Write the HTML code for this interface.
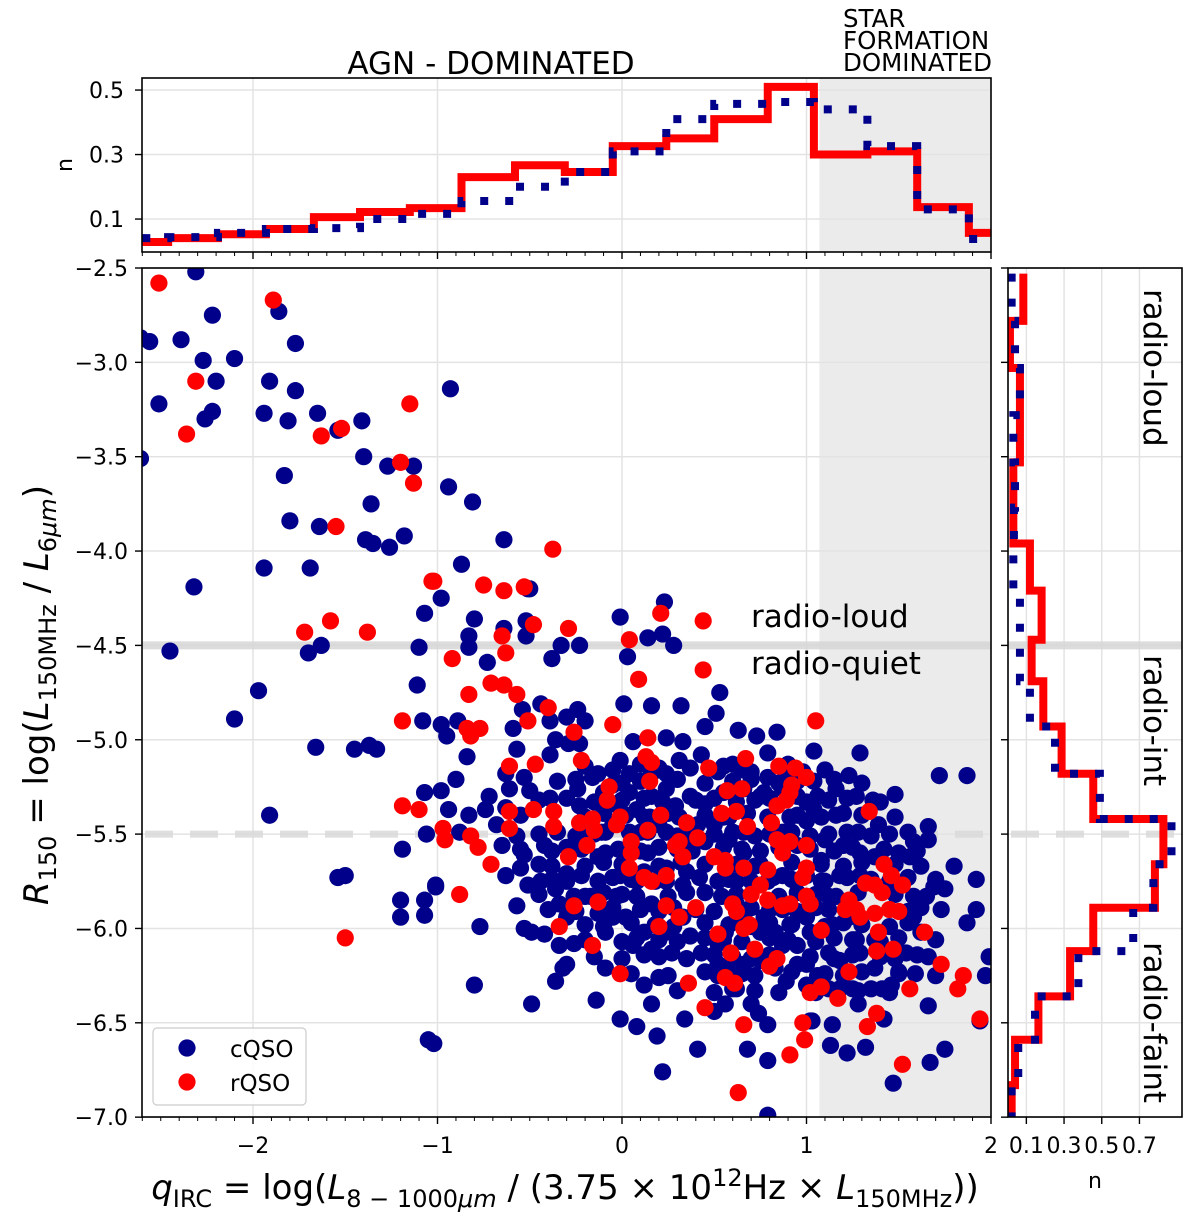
<!DOCTYPE html>
<html><head><meta charset="utf-8"><style>
html,body{margin:0;padding:0;background:#fff;}
svg{display:block;font-family:"DejaVu Sans","Liberation Sans",sans-serif;}
</style></head><body>
<svg id="chart" width="1200" height="1226" viewBox="0 0 1200 1226" xmlns="http://www.w3.org/2000/svg">
<defs>
<clipPath id="mainClip"><rect x="142" y="268" width="849" height="849"/></clipPath>
<clipPath id="topClip"><rect x="142" y="78" width="849" height="174"/></clipPath>
<clipPath id="rightClip"><rect x="1008" y="268" width="174" height="849"/></clipPath>
</defs>
<g id="bg"></g>
<g id="grid"></g>
<g id="refs"></g>
<g id="hists"></g>
<g id="points" clip-path="url(#mainClip)"></g>
<g id="axes"></g>
<g id="labels"></g>
</svg>
<script>
const xTicks = [-2, -1, 0, 1, 2];
const xTickLabels = ['\u22122', '\u22121', '0', '1', '2'];
const yTicks = [-2.5, -3.0, -3.5, -4.0, -4.5, -5.0, -5.5, -6.0, -6.5, -7.0];
const yTickLabels = ['\u22122.5', '\u22123.0', '\u22123.5', '\u22124.0', '\u22124.5', '\u22125.0', '\u22125.5', '\u22126.0', '\u22126.5', '\u22127.0'];
const topTicks = [0.1, 0.3, 0.5];
const topTickLabels = ['0.1', '0.3', '0.5'];
const rightTicks = [0.1, 0.3, 0.5, 0.7];
const rightTickLabels = ['0.1', '0.3', '0.5', '0.7'];
const sfBoundary = 1.07;
const loudLine = -4.5;
const faintLine = -5.5;

const topEdges = [-2.6,-2.46,-2.19,-1.93,-1.67,-1.42,-1.15,-0.87,-0.58,-0.31,-0.05,0.24,0.50,0.79,1.04,1.33,1.60,1.88,2.0];
const topRed = [0.029,0.041,0.053,0.069,0.106,0.122,0.134,0.23,0.267,0.246,0.326,0.35,0.41,0.51,0.30,0.31,0.137,0.057];
const topBlue = [0.041,0.044,0.057,0.069,0.072,0.10,0.116,0.156,0.20,0.246,0.31,0.41,0.457,0.463,0.44,0.326,0.13,0.038];

const rightEdges = [-2.53,-2.78,-3.03,-3.28,-3.53,-3.77,-3.96,-4.21,-4.47,-4.69,-4.93,-5.18,-5.42,-5.66,-5.89,-6.12,-6.36,-6.59,-6.83,-7.0];
const rightRed = [0.084,0.013,0.066,0.066,0.031,0.031,0.119,0.181,0.128,0.19,0.287,0.455,0.827,0.782,0.455,0.332,0.164,0.04,0.022];
const rightBlue = [0.022,0.04,0.066,0.031,0.04,0.034,0.031,0.066,0.066,0.119,0.252,0.49,0.87,0.774,0.667,0.376,0.146,0.057,0.022];

const cqsoPoints = [
[-2.31,-2.52],[-2.61,-2.87],[-2.56,-2.89],[-2.39,-2.88],[-2.22,-2.75],[-2.27,-2.99],[-2.10,-2.98],[-2.20,-3.10],[-2.51,-3.22],[-2.22,-3.26],[-2.26,-3.30],[-2.61,-3.51],[-1.86,-2.73],[-1.77,-2.90],[-1.91,-3.10],[-1.77,-3.15],[-1.94,-3.27],[-1.81,-3.31],[-1.65,-3.27],[-1.54,-3.36],[-1.41,-3.31],[-0.93,-3.14],[-1.40,-3.50],[-1.27,-3.55],[-1.13,-3.55],[-1.83,-3.60],[-1.36,-3.75],[-0.94,-3.66],[-0.81,-3.74],[-1.80,-3.84],[-1.64,-3.87],[-1.39,-3.94],[-1.35,-3.96],[-1.26,-3.98],[-1.18,-3.92],[-0.64,-3.94],[-1.94,-4.09],[-1.69,-4.09],[-2.32,-4.19],[-0.87,-4.07],[-0.98,-4.25],[-1.07,-4.33],[-0.80,-4.36],[-0.64,-4.41],[-0.52,-4.37],[-0.50,-4.20],[-0.83,-4.45],[-0.52,-4.45],[-2.45,-4.53],[-1.63,-4.50],[-1.70,-4.54],[-1.10,-4.51],[-0.83,-4.51],[-0.73,-4.59],[-0.38,-4.57],
[-2.10,-4.89],[-1.97,-4.74],[-1.91,-5.40],[-1.66,-5.04],[-1.45,-5.05],[-1.37,-5.03],[-1.33,-5.05],[-1.54,-5.73],[-1.50,-5.72],[-1.07,-5.85],[-1.07,-5.93],[-1.05,-6.59],[-1.19,-5.58],[-1.01,-5.77],
[-0.51,-4.20],[-0.33,-4.50],[-0.23,-4.50],[-1.11,-4.71],[-0.01,-4.35],[0.03,-4.56],[0.14,-4.46],[0.23,-4.27],[0.22,-4.44],[0.28,-4.50],[0.01,-4.81],[0.16,-4.82],[0.32,-4.82],[0.53,-4.75],[0.51,-4.86],[0.45,-4.93],[0.63,-4.95],[0.73,-4.98],[0.84,-4.96],[0.79,-5.07],[1.04,-5.06],[1.29,-5.07],[1.72,-5.19],[1.48,-5.29],[1.23,-5.19],[1.16,-5.26],[1.87,-5.19],
[-1.08,-4.90],[-0.98,-4.92],[-0.89,-4.90],[-0.95,-4.98],[-0.84,-5.09],[-0.59,-4.94],[-0.54,-4.84],[-0.44,-4.81],[-0.39,-4.90],[-0.30,-4.88],[-0.24,-4.84],[-0.20,-4.90],[-0.36,-5.00],[-0.29,-5.02],[-0.23,-5.02],[-0.57,-5.05],[-0.39,-5.08],[-0.90,-5.21],[-1.07,-5.28],[-0.98,-5.27],[-0.72,-5.30],[-0.94,-5.37],[-0.83,-5.40],[-0.74,-5.37],[-0.68,-5.45],[-0.63,-5.18],[-0.61,-5.26],[-0.53,-5.20],[-0.50,-5.27],[-0.39,-5.31],[-0.63,-5.36],[-1.06,-5.50],[-0.88,-5.49],[-0.65,-5.56],[-0.57,-5.51],[-0.42,-5.56],[-0.53,-5.61],[-0.55,-5.68],[-0.38,-5.67],[-0.30,-5.71],[-0.51,-5.77],[-1.01,-5.78],[-0.63,-5.72],[-0.22,-5.58],[-0.13,-5.62],[-0.13,-5.75],[-0.22,-5.49],[-0.11,-5.49],[-0.24,-5.26],[-0.23,-5.35],[-0.16,-5.20],[-0.10,-5.28],[-0.05,-5.34],[0.04,-5.28],[0.08,-5.37],[0.16,-5.30],[0.24,-5.26],[0.29,-5.35],[0.37,-5.30],[0.45,-5.34],[0.55,-5.28],[0.66,-5.26],[0.77,-5.28],[0.87,-5.26],[0.95,-5.30],[1.06,-5.30],[1.27,-5.30],[1.36,-5.32],[1.16,-5.40],[1.28,-5.49],[1.39,-5.45],[1.66,-5.46],[1.66,-5.53],[1.58,-5.54],[1.50,-5.60],[1.56,-5.62],[1.80,-5.67],[1.92,-5.74],[1.75,-5.79],[1.69,-5.78],[1.73,-5.90],[1.92,-5.90],[1.87,-5.97],[1.58,-5.83],[1.58,-5.94],[1.62,-6.02],[1.54,-6.13],[1.66,-6.15],[1.97,-6.25],[1.99,-6.15],[1.66,-6.41],[1.75,-6.64],[1.67,-6.71],[1.47,-6.82],[1.42,-6.48],[1.32,-6.63],[1.22,-6.66],[1.13,-6.62],[1.03,-6.49],[1.46,-6.30],[1.37,-6.21],[1.28,-6.40],[1.25,-6.32],[1.35,-6.32],[1.29,-6.13],[1.37,-6.06],[1.27,-6.06],[1.18,-6.17],[1.12,-6.13],[1.23,-5.94],[1.14,-5.98],[1.16,-5.83],[1.08,-5.75],[1.18,-5.72],[1.29,-5.72],[1.37,-5.62],[1.29,-5.60],[1.20,-5.56],[1.10,-5.53],[1.08,-5.64],[1.00,-5.72],[1.00,-5.83],[1.00,-5.94],[0.91,-5.98],[1.02,-6.02],[0.95,-6.09],[0.95,-6.19],[0.87,-6.09],[0.83,-6.21],[0.75,-6.17],[0.66,-6.19],[0.58,-6.21],[0.52,-6.19],[0.85,-6.34],[0.74,-6.45],[0.79,-6.51],[0.68,-6.64],[0.79,-6.70],[0.79,-6.99],[0.62,-6.32],[0.70,-6.40],[0.52,-6.25],[0.43,-6.13],[0.37,-6.04],[0.33,-5.94],[0.24,-6.02],[0.27,-6.13],[0.16,-6.11],[0.06,-6.09],[0.12,-6.02],[0.02,-5.94],[-0.05,-5.94],[-0.09,-6.02],[-0.09,-6.21],[-0.26,-6.08],[-0.34,-6.09],[-0.30,-6.19],[-0.36,-6.28],[-0.34,-5.87],[-0.30,-5.94],[-0.49,-6.02],[-0.53,-6.00],[-0.42,-6.03],[-0.13,-5.92],[-0.03,-5.83],[0.08,-5.83],[0.16,-5.87],[0.08,-5.75],[-0.01,-5.72],[0.12,-5.70],[0.24,-5.75],[0.33,-5.77],[0.35,-5.70],[0.24,-5.68],[0.14,-5.60],[0.02,-5.60],[0.04,-5.49],[0.14,-5.49],[0.24,-5.49],[0.37,-5.51],[0.45,-5.54],[0.45,-5.66],[0.52,-5.75],[0.45,-5.81],[0.54,-5.83],[0.62,-5.75],[0.62,-5.87],[0.66,-5.94],[0.56,-6.02],[0.52,-6.08],[0.75,-6.02],[0.77,-5.94],[0.83,-6.02],[0.87,-5.90],[0.79,-5.75],[0.87,-5.72],[0.75,-5.66],[0.66,-5.60],[0.58,-5.53],[0.66,-5.49],[0.79,-5.41],[0.91,-5.41],[1.00,-5.43],[1.04,-5.37],[0.87,-5.49],[0.95,-5.56],[0.58,-5.41],[0.50,-5.45],[0.41,-5.45],[0.31,-5.41],[0.20,-5.45],[0.12,-5.41],[-0.05,-5.45],[-0.09,-5.49],[-0.09,-5.60],[-0.22,-5.72],[-0.17,-5.83],[-0.26,-5.83],[-0.36,-5.79],[-0.44,-5.75],[0.31,-5.11],[0.37,-5.15],[0.33,-5.01],[0.24,-4.99],[0.06,-5.01],[0.43,-5.08],[0.52,-5.17],[0.60,-5.13],[0.70,-5.17],[0.79,-5.20],[0.89,-5.18],[0.98,-5.17],[1.04,-5.22],[0.75,-5.30],[0.24,-5.18],[0.16,-5.18],[0.04,-5.18],[-0.05,-5.24],[-0.13,-5.18],[-0.01,-5.11],[1.94,-6.49],[1.59,-6.24],[1.50,-6.23],[1.41,-6.32],[1.12,-6.32],[1.06,-6.25],[1.00,-6.19],[0.89,-6.28],[1.00,-6.30],[1.14,-6.51],[1.02,-6.49],[0.56,-6.40],[0.50,-6.44],[0.41,-6.64],[0.34,-6.48],[0.20,-6.26],[0.12,-6.30],[0.16,-6.40],[0.22,-6.76],[0.19,-6.57],[0.08,-6.52],[-0.01,-6.48],[-0.14,-6.38],[-0.80,-6.30],[-0.49,-6.40],[-1.02,-6.61],[-0.77,-5.99],[-0.57,-5.88],[-1.20,-5.85],[-1.20,-5.94],[-0.32,-6.21],
[-0.20,-5.14],[-0.05,-5.16],[0.10,-5.13],[0.20,-5.15],[0.55,-5.14],[0.65,-5.16],[0.90,-5.13],[1.10,-5.16],
[-0.35,-5.22],[-0.25,-5.21],[0.00,-5.23],[0.10,-5.22],[0.30,-5.21],[0.45,-5.23],[0.60,-5.22],[0.70,-5.21],[0.85,-5.23],[0.95,-5.22],[1.15,-5.21],[1.30,-5.23],
[-0.45,-5.32],[-0.30,-5.31],[-0.15,-5.33],[0.00,-5.32],[0.12,-5.31],[0.22,-5.33],[0.40,-5.32],[0.50,-5.31],[0.62,-5.33],[0.72,-5.32],[0.80,-5.31],[1.00,-5.33],[1.12,-5.32],[1.22,-5.31],[1.40,-5.33],
[-0.55,-5.40],[-0.20,-5.41],[-0.10,-5.39],[0.02,-5.40],[0.15,-5.41],[0.25,-5.39],[0.45,-5.40],[0.55,-5.41],[0.68,-5.39],[0.95,-5.40],[1.08,-5.41],[1.20,-5.39],[1.30,-5.40],[1.48,-5.41],
[-0.45,-5.50],[-0.35,-5.49],[-0.25,-5.51],[-0.15,-5.50],[0.10,-5.49],[0.30,-5.51],[0.50,-5.50],[0.60,-5.49],[0.72,-5.51],[0.80,-5.50],[0.92,-5.49],[1.02,-5.51],[1.12,-5.50],[1.22,-5.49],[1.35,-5.51],[1.45,-5.50],[1.55,-5.49],
[-0.55,-5.58],[-0.38,-5.59],[-0.30,-5.57],[-0.02,-5.58],[0.10,-5.59],[0.20,-5.57],[0.30,-5.58],[0.38,-5.59],[0.55,-5.57],[0.65,-5.58],[0.75,-5.59],[0.85,-5.57],[1.02,-5.58],[1.15,-5.59],[1.25,-5.57],[1.42,-5.58],[1.60,-5.59],
[-0.45,-5.66],[-0.20,-5.67],[-0.10,-5.65],[0.00,-5.66],[0.20,-5.67],[0.32,-5.65],[0.62,-5.66],[0.72,-5.67],[0.92,-5.65],[1.08,-5.66],[1.20,-5.67],[1.30,-5.65],[1.48,-5.66],[1.62,-5.67],
[-0.38,-5.74],[-0.30,-5.75],[-0.05,-5.73],[0.05,-5.74],[0.18,-5.75],[0.42,-5.73],[0.58,-5.74],[0.70,-5.75],[0.82,-5.73],[0.92,-5.74],[1.10,-5.75],[1.22,-5.73],[1.35,-5.74],[1.45,-5.75],[1.55,-5.73],[1.70,-5.74],
[-0.45,-5.82],[-0.20,-5.83],[-0.10,-5.81],[0.00,-5.82],[0.25,-5.83],[0.35,-5.81],[0.62,-5.82],[0.85,-5.83],[0.95,-5.81],[1.05,-5.82],[1.12,-5.83],[1.28,-5.81],[1.48,-5.82],[1.65,-5.83],
[-0.40,-5.90],[-0.25,-5.91],[-0.05,-5.89],[0.10,-5.90],[0.20,-5.91],[0.28,-5.89],[0.40,-5.90],[0.50,-5.91],[0.70,-5.89],[0.80,-5.90],[0.95,-5.91],[1.05,-5.89],[1.12,-5.90],[1.55,-5.91],[1.62,-5.89],
[-0.20,-5.98],[-0.10,-5.99],[0.05,-5.97],[0.18,-5.98],[0.28,-5.99],[0.45,-5.97],[0.58,-5.98],[0.70,-5.99],[0.80,-5.97],[0.92,-5.98],[1.10,-5.99],[1.20,-5.97],[1.30,-5.98],[1.45,-5.99],[1.55,-5.97],
[-0.20,-6.06],[0.00,-6.07],[0.08,-6.05],[0.20,-6.06],[0.30,-6.07],[0.45,-6.05],[0.55,-6.06],[0.65,-6.07],[0.80,-6.05],[0.90,-6.06],[1.05,-6.07],[1.15,-6.05],[1.25,-6.06],[1.40,-6.07],[1.50,-6.05],[1.70,-6.06],
[-0.15,-6.15],[0.00,-6.16],[0.12,-6.14],[0.20,-6.15],[0.35,-6.16],[0.50,-6.14],[0.60,-6.15],[0.70,-6.16],[0.80,-6.14],[1.02,-6.15],[1.15,-6.16],[1.25,-6.14],[1.40,-6.15],[1.48,-6.16],[1.60,-6.14],
[0.05,-6.24],[0.25,-6.25],[0.45,-6.23],[0.65,-6.24],[0.72,-6.25],[0.92,-6.23],[1.10,-6.24],[1.20,-6.25],[1.30,-6.23],[1.50,-6.24],[1.70,-6.25],
[0.30,-6.33],[0.50,-6.34],[0.60,-6.32],[0.72,-6.33],[1.05,-6.34],[1.18,-6.32],[1.28,-6.33],[1.45,-6.34]
];

const rqsoPoints = [
[-2.51,-2.58],[-1.89,-2.67],[-2.31,-3.10],[-2.36,-3.38],[-1.63,-3.39],[-1.52,-3.35],[-1.15,-3.22],[-1.20,-3.53],[-1.13,-3.64],[-1.55,-3.87],[-1.02,-4.16],[-0.75,-4.18],[-0.64,-4.21],[-0.53,-4.19],[-0.375,-3.99],[-1.58,-4.37],[-1.72,-4.43],[-1.38,-4.43],[-0.48,-4.39],[-0.65,-4.45],[-0.92,-4.57],[-0.63,-4.54],[-1.50,-6.05],
[-1.03,-4.16],[-0.29,-4.41],[0.04,-4.47],[0.21,-4.33],[0.44,-4.37],[0.44,-4.63],[0.09,-4.68],[-0.71,-4.70],[-0.64,-4.71],[-0.57,-4.76],[-0.83,-4.76],[-0.40,-4.83],[-0.51,-4.90],[-1.19,-4.90],[-0.84,-4.94],[-0.77,-4.94],[-0.82,-4.98],[-0.26,-4.96],[-0.05,-4.92],[0.14,-4.99],[0.13,-5.09],[0.16,-5.12],[0.15,-5.22],[1.05,-4.90],[0.67,-5.10],[0.85,-5.14],[0.94,-5.15],[1.00,-5.20],[0.92,-5.24],[0.47,-5.15],[0.57,-5.27],[0.65,-5.26],[-0.22,-5.11],[-0.47,-5.13],[-0.61,-5.14],[-0.07,-5.25],[-0.08,-5.32],[-1.19,-5.35],[-1.10,-5.37],[-0.61,-5.38],[-0.48,-5.37],[-0.37,-5.38],[-0.37,-5.46],[-0.61,-5.47],[-0.97,-5.47],[-0.96,-5.53],[-0.82,-5.51],[-0.78,-5.57],[-0.71,-5.66],[-0.88,-5.82],[-0.23,-5.44],[-0.16,-5.42],[-0.15,-5.48],[-0.01,-5.41],[-0.03,-5.45],[0.21,-5.40],[0.14,-5.48],[0.35,-5.44],[0.54,-5.39],[0.62,-5.38],[0.68,-5.46],[0.81,-5.44],[0.84,-5.35],[0.89,-5.32],[0.91,-5.28],[1.34,-5.38],[0.31,-5.54],[0.41,-5.52],[0.29,-5.56],[0.33,-5.62],[0.05,-5.54],[0.05,-5.60],[-0.19,-5.56],[-0.29,-5.62],[0.04,-5.68],[0.12,-5.73],[0.24,-5.72],[0.16,-5.75],[0.50,-5.62],[0.56,-5.64],[0.56,-5.68],[0.66,-5.68],[0.79,-5.69],[0.84,-5.53],[0.91,-5.54],[1.00,-5.56],[0.87,-5.60],[1.00,-5.68],[0.98,-5.73],[0.75,-5.77],[0.70,-5.82],[0.79,-5.85],[0.87,-5.88],[1.00,-5.83],[1.02,-5.87],[0.91,-5.87],[0.60,-5.87],[0.62,-5.91],[1.42,-5.66],[1.46,-5.72],[1.52,-5.77],[1.32,-5.76],[1.37,-5.77],[1.41,-5.81],[1.23,-5.85],[1.27,-5.90],[1.21,-5.90],[1.29,-5.94],[1.37,-5.92],[1.45,-5.90],[1.50,-5.91],[1.39,-6.02],[1.38,-6.12],[1.47,-6.11],[1.64,-6.02],[1.73,-6.19],[1.85,-6.25],[1.82,-6.32],[1.94,-6.48],[1.56,-6.32],[1.52,-6.72],[1.38,-6.45],[1.33,-6.52],[1.23,-6.23],[1.17,-6.37],[1.08,-6.01],[1.08,-6.31],[1.02,-6.34],[0.98,-6.50],[0.99,-6.59],[0.91,-6.67],[0.84,-6.16],[0.80,-6.20],[0.72,-6.11],[0.59,-6.13],[0.66,-6.00],[0.69,-5.98],[0.52,-6.03],[0.56,-6.26],[0.61,-6.29],[0.45,-6.42],[0.66,-6.51],[0.63,-6.87],[0.36,-6.29],[-0.01,-6.24],[-0.16,-6.09],[-0.34,-5.99],[-0.26,-5.88],[-0.13,-5.86],[0.24,-5.88],[0.31,-5.94],[0.20,-5.99],[0.40,-5.89]
];

const NS = 'http://www.w3.org/2000/svg';
const X0 = 622, XS = 184.5, Y0 = 268, YS = 188.7;
function sx(x){ return X0 + x * XS; }
function sy(y){ return Y0 + (-2.5 - y) * YS; }
function sny(n){ return 251.3 - n * 322.5; }
function snx(n){ return 1007.5 + n * 188.5; }
const MAIN = {l:142, r:991, t:268, b:1117};
const TOP = {l:142, r:991, t:78, b:252};
const RIGHT = {l:1008, r:1182, t:268, b:1117};

function mk(tag, attrs, parent){
  const e = document.createElementNS(NS, tag);
  for (const k in attrs) e.setAttribute(k, attrs[k]);
  parent.appendChild(e);
  return e;
}
const gBg = document.getElementById('bg');
const gGrid = document.getElementById('grid');
const gRefs = document.getElementById('refs');
const gHist = document.getElementById('hists');
const gPts = document.getElementById('points');
const gAx = document.getElementById('axes');
const gLab = document.getElementById('labels');

let el;
el = mk('rect', {x: sx(sfBoundary), y: MAIN.t, width: MAIN.r - sx(sfBoundary), height: MAIN.b - MAIN.t, fill: '#ebebeb'}, gBg);


el = mk('rect', {x: sx(sfBoundary), y: TOP.t, width: TOP.r - sx(sfBoundary), height: TOP.b - TOP.t, fill: '#ebebeb'}, gBg);



xTicks.forEach(function(t){
  if (t >= 2) return;
  el = mk('line', {x1: sx(t), x2: sx(t), y1: MAIN.t, y2: MAIN.b, stroke: '#e3e3e3', 'stroke-width': 1.5}, gGrid);
  
  
  el = mk('line', {x1: sx(t), x2: sx(t), y1: TOP.t, y2: TOP.b, stroke: '#e3e3e3', 'stroke-width': 1.5}, gGrid);
  
  
});
yTicks.forEach(function(t){
  el = mk('line', {x1: MAIN.l, x2: MAIN.r, y1: sy(t), y2: sy(t), stroke: '#e3e3e3', 'stroke-width': 1.5}, gGrid);
  
  
  el = mk('line', {x1: RIGHT.l, x2: RIGHT.r, y1: sy(t), y2: sy(t), stroke: '#e3e3e3', 'stroke-width': 1.5}, gGrid);
  
  
});
topTicks.forEach(function(t){
  el = mk('line', {x1: TOP.l, x2: TOP.r, y1: sny(t), y2: sny(t), stroke: '#e3e3e3', 'stroke-width': 1.5}, gGrid);
  
  
});
rightTicks.forEach(function(t){
  el = mk('line', {x1: snx(t), x2: snx(t), y1: RIGHT.t, y2: RIGHT.b, stroke: '#e3e3e3', 'stroke-width': 1.5}, gGrid);
  
  
});

[[MAIN.l, MAIN.r], [RIGHT.l, RIGHT.r]].forEach(function(span){
  el = mk('line', {x1: span[0], x2: span[1], y1: sy(loudLine), y2: sy(loudLine), stroke: '#d6d6d6', 'stroke-width': 8, 'stroke-opacity': 0.85}, gRefs);
  
  
  el = mk('line', {x1: span[0] + 3, x2: span[1], y1: sy(faintLine), y2: sy(faintLine), stroke: '#d9d9d9', 'stroke-width': 7, 'stroke-dasharray': '28 17', 'stroke-opacity': 0.85}, gRefs);
  
  
});

function topPath(vals){
  let d = 'M' + sx(topEdges[0]) + ' ' + sny(vals[0]);
  for (let i = 0; i < vals.length; i++){
    if (i > 0) d += ' V' + sny(vals[i]);
    d += ' H' + sx(topEdges[i + 1]);
  }
  return d;
}
function rightPath(vals){
  let d = 'M' + snx(vals[0]) + ' ' + sy(rightEdges[0]);
  for (let i = 0; i < vals.length; i++){
    if (i > 0) d += ' H' + snx(vals[i]);
    d += ' V' + sy(rightEdges[i + 1]);
  }
  return d;
}
const gTop = mk('g', {'clip-path': 'url(#topClip)'}, gHist);


el = mk('path', {d: topPath(topRed), fill: 'none', stroke: '#ff0000', 'stroke-width': 8}, gTop);


el = mk('path', {d: topPath(topBlue), fill: 'none', stroke: '#00008b', 'stroke-width': 8, 'stroke-dasharray': '8 17'}, gTop);



const gRight = mk('g', {'clip-path': 'url(#rightClip)'}, gHist);


el = mk('path', {d: rightPath(rightRed), fill: 'none', stroke: '#ff0000', 'stroke-width': 8}, gRight);


el = mk('path', {d: rightPath(rightBlue), fill: 'none', stroke: '#00008b', 'stroke-width': 8, 'stroke-dasharray': '8 17'}, gRight);



cqsoPoints.forEach(function(p){
  const c = mk('circle', {cx: sx(p[0]), cy: sy(p[1]), r: 8.6, fill: '#00008b'}, gPts);
  
  
});
rqsoPoints.forEach(function(p){
  const c = mk('circle', {cx: sx(p[0]), cy: sy(p[1]), r: 8.6, fill: '#ff0000'}, gPts);
  
  
});

[[MAIN, 'main-axes-frame'], [TOP, 'top-axes-frame'], [RIGHT, 'right-axes-frame']].forEach(function(a){
  const b = a[0];
  const r = mk('rect', {x: b.l, y: b.t, width: b.r - b.l, height: b.b - b.t, fill: 'none', stroke: '#000', 'stroke-width': 1.6}, gAx);
  
  
});

for (let k = -26; k <= 20; k++){
  const v = k / 10;
  const major = (k % 10 === 0);
  const len = major ? 7 : 4;
  [MAIN.b, TOP.b].forEach(function(yb){
    const t = mk('line', {x1: sx(v), x2: sx(v), y1: yb, y2: yb + len, stroke: '#000', 'stroke-width': major ? 1.4 : 1}, gAx);
    
    
  });
}
xTicks.forEach(function(t, i){
  const tx = mk('text', {x: sx(t), y: 1153, 'text-anchor': 'middle', 'font-size': 22, fill: '#000'}, gLab);
  tx.textContent = xTickLabels[i];
  
  
});
yTicks.forEach(function(t, i){
  let ln = mk('line', {x1: MAIN.l - 7, x2: MAIN.l, y1: sy(t), y2: sy(t), stroke: '#000', 'stroke-width': 1.4}, gAx);
  
  
  ln = mk('line', {x1: RIGHT.l - 7, x2: RIGHT.l, y1: sy(t), y2: sy(t), stroke: '#000', 'stroke-width': 1.4}, gAx);
  
  
  const tx = mk('text', {x: 128, y: sy(t) + 8, 'text-anchor': 'end', 'font-size': 22, fill: '#000'}, gLab);
  tx.textContent = yTickLabels[i];
  
  
});
topTicks.forEach(function(t, i){
  const ln = mk('line', {x1: TOP.l - 7, x2: TOP.l, y1: sny(t), y2: sny(t), stroke: '#000', 'stroke-width': 1.4}, gAx);
  
  
  const tx = mk('text', {x: 124, y: sny(t) + 8, 'text-anchor': 'end', 'font-size': 22, fill: '#000'}, gLab);
  tx.textContent = topTickLabels[i];
  
  
});
rightTicks.forEach(function(t, i){
  const ln = mk('line', {x1: snx(t), x2: snx(t), y1: RIGHT.b, y2: RIGHT.b + 7, stroke: '#000', 'stroke-width': 1.4}, gAx);
  
  
  const tx = mk('text', {x: snx(t), y: 1153, 'text-anchor': 'middle', 'font-size': 22, fill: '#000'}, gLab);
  tx.textContent = rightTickLabels[i];
  
  
});
</script>
<script>
const svg = document.getElementById('chart');
svg.insertAdjacentHTML('beforeend', `
<g fill="#000">
  <text x="491" y="74" text-anchor="middle" font-size="31">AGN - DOMINATED</text>
  <text x="843" y="27" font-size="24.5">STAR</text>
  <text x="843" y="49" font-size="24.5">FORMATION</text>
  <text x="843" y="71" font-size="24.5">DOMINATED</text>
  <text x="751" y="627" font-size="31">radio-loud</text>
  <text x="751" y="674" font-size="31">radio-quiet</text>
  <text transform="translate(1144,289) rotate(90)" font-size="31">radio-loud</text>
  <text transform="translate(1144,655) rotate(90)" font-size="31">radio-int</text>
  <text transform="translate(1144,942) rotate(90)" font-size="31">radio-faint</text>
  <text transform="translate(72,165) rotate(-90)" text-anchor="middle" font-size="22">n</text>
  <text x="1095" y="1188" text-anchor="middle" font-size="22">n</text>
  <text transform="translate(48,695) rotate(-90)" text-anchor="middle" font-size="34"><tspan font-style="italic">R</tspan><tspan font-size="24" dy="8">150</tspan><tspan dy="-8"> = log(</tspan><tspan font-style="italic">L</tspan><tspan font-size="24" dy="8">150MHz</tspan><tspan dy="-8"> / </tspan><tspan font-style="italic">L</tspan><tspan font-size="24" dy="8">6</tspan><tspan font-size="24" font-style="italic">μm</tspan><tspan dy="-8">)</tspan></text>
  <text x="565" y="1199" text-anchor="middle" font-size="34"><tspan font-style="italic">q</tspan><tspan font-size="24" dy="8">IRC</tspan><tspan dy="-8"> = log(</tspan><tspan font-style="italic">L</tspan><tspan font-size="24" dy="8">8 − 1000</tspan><tspan font-size="24" font-style="italic">μm</tspan><tspan dy="-8"> / (3.75 × 10</tspan><tspan font-size="24" dy="-13">12</tspan><tspan dy="13">Hz × </tspan><tspan font-style="italic">L</tspan><tspan font-size="24" dy="8">150MHz</tspan><tspan dy="-8">))</tspan></text>
  <g>
    <rect x="153" y="1028" width="153" height="77" rx="4" fill="#ffffff" fill-opacity="0.85" stroke="#cccccc" stroke-width="1.2"/>
    <circle cx="187" cy="1048" r="8.6" fill="#00008b"/>
    <text x="230" y="1057" font-size="23">cQSO</text>
    <circle cx="187" cy="1082" r="8.6" fill="#ff0000"/>
    <text x="230" y="1091" font-size="23">rQSO</text>
  </g>
</g>`);
</script>
</body></html>
